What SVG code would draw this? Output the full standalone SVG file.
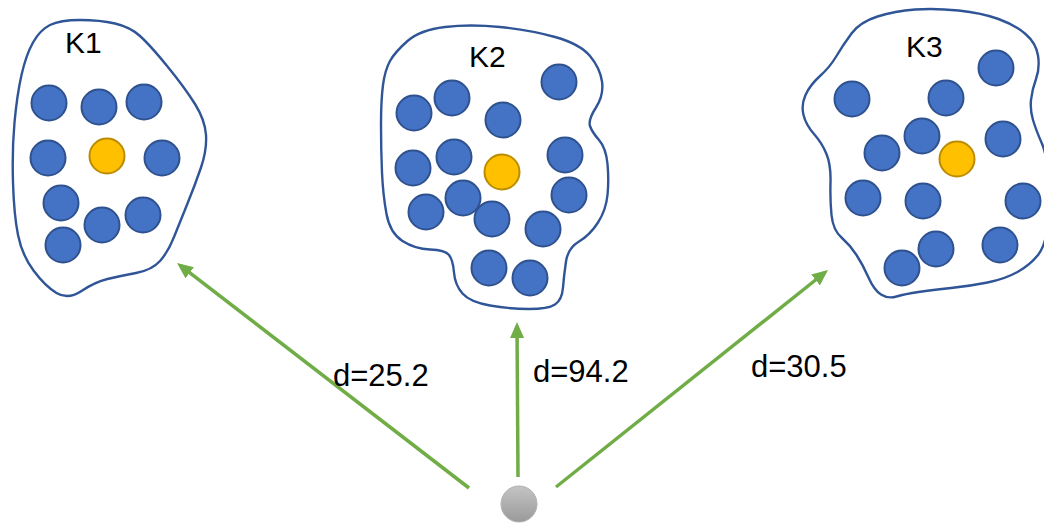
<svg xmlns="http://www.w3.org/2000/svg" width="1044" height="523" viewBox="0 0 1044 523">
<style>
.blob{fill:#ffffff;stroke:#2f5597;stroke-width:2.4}
.pt{fill:#4472c4;stroke:#2f528f;stroke-width:2}
.ctr{fill:#ffc000;stroke:#bc8c00;stroke-width:2}
.lbl{font-family:"Liberation Sans",Arial,sans-serif;font-size:30px;fill:#000}
.dl{font-size:31px}
.conn{stroke:#70ad47;stroke-width:3.5;fill:none;marker-end:url(#ah)}
</style>
<defs>
<marker id="ah" viewBox="0 0 16 14" refX="12" refY="7" markerWidth="16" markerHeight="14" markerUnits="userSpaceOnUse" orient="auto">
<path d="M0,0 L16,7 L0,14 z" fill="#70ad47"/>
</marker>
<linearGradient id="gray" x1="0" y1="0" x2="0" y2="1">
<stop offset="0" stop-color="#c4c4c4"/>
<stop offset="1" stop-color="#9a9a9a"/>
</linearGradient>
</defs>
<rect width="1044" height="523" fill="#ffffff"/>
<g id="K1">
<path class="blob" d="M50,25 Q60,20 80,20 Q100,20 115,23.5 Q130,27 140,36 Q150,45 167.5,66.5 Q185,88 195,104 Q205,120 206,135 Q207,150 201,167.5 Q195,185 187.5,203.5 Q180,222 174,237 Q168,252 160,261 Q152,270 136,273 Q120,276 107.5,279 Q95,282 81.5,291 Q68,300 56.5,293 Q45,286 33.5,270.5 Q22,255 18,235 Q14,215 13,182.5 Q12,150 14.5,122.5 Q17,95 21.5,75 Q26,55 33,42.5 Q40,30 50,25 Z"/>
<text class="lbl" x="65" y="53">K1</text>
<circle class="pt" cx="49" cy="103" r="17.5"/>
<circle class="pt" cx="99" cy="107" r="17.5"/>
<circle class="pt" cx="144" cy="102" r="17.5"/>
<circle class="pt" cx="48" cy="158" r="17.5"/>
<circle class="ctr" cx="107" cy="156" r="17.5"/>
<circle class="pt" cx="162" cy="158" r="17.5"/>
<circle class="pt" cx="61" cy="203" r="17.5"/>
<circle class="pt" cx="143" cy="215" r="17.5"/>
<circle class="pt" cx="102" cy="225" r="17.5"/>
<circle class="pt" cx="63" cy="245" r="17.5"/>
</g>
<g id="K2">
<path class="blob" d="M407.5,41 Q420,30 445,27 Q470,24 500,27 Q530,30 555,37 Q580,44 590,56 Q600,68 602,81.5 Q604,95 596,107.5 Q588,120 590,126 Q592,132 599,140 Q606,148 607.5,164 Q609,180 607.5,195 Q606,210 598,222.5 Q590,235 579,241.5 Q568,248 566,261.5 Q564,275 563,287.5 Q562,300 555,304.5 Q548,309 529,309 Q510,309 490,305.5 Q470,302 462.5,293.5 Q455,285 454,272.5 Q453,260 449,255 Q445,250 430,249.5 Q415,249 402.5,241 Q390,233 386.5,214 Q383,195 382,172.5 Q381,150 381,125 Q381,100 383,85 Q385,70 390,61 Q395,52 407.5,41 Z"/>
<text class="lbl" x="469" y="67">K2</text>
<circle class="pt" cx="559" cy="82" r="17.5"/>
<circle class="pt" cx="452" cy="98" r="17.5"/>
<circle class="pt" cx="414" cy="113" r="17.5"/>
<circle class="pt" cx="503" cy="120" r="17.5"/>
<circle class="pt" cx="454" cy="157" r="17.5"/>
<circle class="pt" cx="413" cy="168" r="17.5"/>
<circle class="ctr" cx="502" cy="172" r="17.5"/>
<circle class="pt" cx="565" cy="155" r="17.5"/>
<circle class="pt" cx="463" cy="198" r="17.5"/>
<circle class="pt" cx="426" cy="212" r="17.5"/>
<circle class="pt" cx="492" cy="219" r="17.5"/>
<circle class="pt" cx="569" cy="195" r="17.5"/>
<circle class="pt" cx="543" cy="229" r="17.5"/>
<circle class="pt" cx="489" cy="268" r="17.5"/>
<circle class="pt" cx="530" cy="278" r="17.5"/>
</g>
<g id="K3">
<path class="blob" d="M851.5,33.5 Q860,22 877.5,16.5 Q895,11 915,9.5 Q935,8 958.5,10.5 Q982,13 998.5,19 Q1015,25 1025.5,34 Q1036,43 1038,55.5 Q1040,68 1036,79 Q1032,90 1031,100 Q1030,110 1033,120 Q1036,130 1041.5,142.5 Q1047,155 1048.5,177.5 Q1050,200 1048,222.5 Q1046,245 1038,255 Q1030,265 1017.5,272 Q1005,279 987.5,282.5 Q970,286 951,288 Q932,290 918.5,292 Q905,294 896.5,296.5 Q888,299 881,294.5 Q874,290 868.5,277.5 Q863,265 856.5,255 Q850,245 841.5,237.5 Q833,230 831.5,215 Q830,200 830.5,182.5 Q831,165 826.5,154 Q822,143 814,134 Q806,125 803.5,115 Q801,105 805.5,95 Q810,85 820,76 Q830,67 836.5,56 Q843,45 851.5,33.5 Z"/>
<text class="lbl" x="906" y="57">K3</text>
<circle class="pt" cx="996" cy="68" r="17.5"/>
<circle class="pt" cx="852" cy="99" r="17.5"/>
<circle class="pt" cx="946" cy="98" r="17.5"/>
<circle class="pt" cx="922" cy="136" r="17.5"/>
<circle class="pt" cx="1003" cy="139" r="17.5"/>
<circle class="pt" cx="882" cy="153" r="17.5"/>
<circle class="ctr" cx="957" cy="159" r="17.5"/>
<circle class="pt" cx="863" cy="198" r="17.5"/>
<circle class="pt" cx="923" cy="201" r="17.5"/>
<circle class="pt" cx="1023" cy="201" r="17.5"/>
<circle class="pt" cx="936" cy="249" r="17.5"/>
<circle class="pt" cx="1000" cy="245" r="17.5"/>
<circle class="pt" cx="902" cy="268" r="17.5"/>
</g>
<g id="query">
<circle cx="519" cy="504" r="18" fill="url(#gray)" stroke="#b0b0b0" stroke-width="1"/>
</g>
<g id="connectors">
<path class="conn" d="M469,488 L180.2,265.4"/>
<path class="conn" d="M518,477 L517,326"/>
<path class="conn" d="M556,487 L824.9,272.5"/>
<text class="lbl dl" x="333" y="386">d=25.2</text>
<text class="lbl dl" x="533" y="382">d=94.2</text>
<text class="lbl dl" x="751" y="377">d=30.5</text>
</g>
</svg>
